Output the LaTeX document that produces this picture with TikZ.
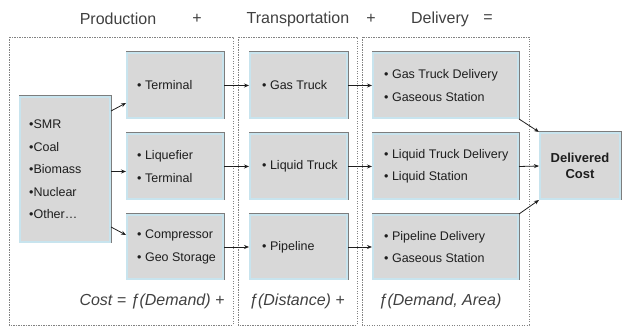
\documentclass[tikz,border=0pt]{standalone}
\usepackage{fontspec}
\setmainfont{Liberation Sans}
\usetikzlibrary{arrows.meta}
\definecolor{boxfill}{RGB}{216,216,216}
\definecolor{boxblue}{RGB}{200,228,238}
\definecolor{boxgray}{RGB}{125,125,125}
\definecolor{frame}{RGB}{130,130,130}
\definecolor{ink}{RGB}{30,30,30}
\tikzset{
  box/.style={rectangle, fill=boxfill, draw=boxblue, line width=2pt,
    preaction={draw=boxgray, line width=3pt}, inner sep=0pt},
  boxtext/.style={anchor=west, align=left, text=ink, inner sep=0pt,
    font=\fontsize{12.5}{22.5}\selectfont},
  costbox/.style={box, align=center, text=ink, font=\bfseries\fontsize{13}{16}\selectfont},
  zone/.style={draw=frame, line width=0.9pt, dash pattern=on 1.2pt off 1.3pt},
  title/.style={text=ink!85, font=\fontsize{16}{18}\selectfont, inner sep=0pt},
  formula/.style={text=ink!85, font=\itshape\fontsize{16}{18}\selectfont, inner sep=0pt},
  conn/.style={draw=ink, line width=0.8pt, -{Stealth[length=5pt,width=4pt]}}
}
\begin{document}
\begin{tikzpicture}[x=1pt,y=-1pt]
\useasboundingbox (0,0) rectangle (625,328);
% zones
\draw[zone] (9,37) rectangle (233,325);
\draw[zone] (238,37) rectangle (357,325);
\draw[zone] (362,37) rectangle (529,325);
% titles
\node[title] (tprod) at (118,19) {Production};
\node[title] (tplus1) at (197,19) {+};
\node[title] (ttrans) at (298,19) {Transportation};
\node[title] (tplus2) at (371,19) {+};
\node[title] (tdel) at (440,19) {Delivery};
\node[title] (teq) at (488,19) {=};
% boxes
\node[box, minimum width=90pt, minimum height=145pt] (src) at (65,169.5) {};
\node[box, minimum width=96pt, minimum height=65pt] (p1) at (175,85.5) {};
\node[box, minimum width=96pt, minimum height=65pt] (p2) at (175,166.5) {};
\node[box, minimum width=96pt, minimum height=64pt] (p3) at (175,247) {};
\node[box, minimum width=97pt, minimum height=65pt] (t1) at (298.5,85.5) {};
\node[box, minimum width=97pt, minimum height=65pt] (t2) at (298.5,166.5) {};
\node[box, minimum width=97pt, minimum height=64pt] (t3) at (298.5,247) {};
\node[box, minimum width=145pt, minimum height=65pt] (d1) at (445.5,85.5) {};
\node[box, minimum width=145pt, minimum height=65pt] (d2) at (445.5,166.5) {};
\node[box, minimum width=145pt, minimum height=64pt] (d3) at (445.5,247) {};
\node[costbox, minimum width=80pt, minimum height=66pt] (cost) at (580,166) {Delivered\\Cost};
% box texts
\node[boxtext] (srct) at ([xshift=10pt]src.west) {•SMR\\•Coal\\•Biomass\\•Nuclear\\•Other…};
\node[boxtext] (p1t) at ([xshift=11pt]p1.west) {• Terminal};
\node[boxtext] (p2t) at ([xshift=11pt]p2.west) {• Liquefier\\• Terminal};
\node[boxtext] (p3t) at ([xshift=11pt]p3.west) {• Compressor\\• Geo Storage};
\node[boxtext] (t1t) at ([xshift=13pt]t1.west) {• Gas Truck};
\node[boxtext] (t2t) at ([xshift=13pt]t2.west) {• Liquid Truck};
\node[boxtext] (t3t) at ([xshift=13pt]t3.west) {• Pipeline};
\node[boxtext] (d1t) at ([xshift=12pt]d1.west) {• Gas Truck Delivery\\• Gaseous Station};
\node[boxtext] (d2t) at ([xshift=12pt]d2.west) {• Liquid Truck Delivery\\• Liquid Station};
\node[boxtext] (d3t) at ([xshift=12pt]d3.west) {• Pipeline Delivery\\• Gaseous Station};
% formulas
\node[formula] (f1) at (152,301) {Cost = ƒ(Demand) +};
\node[formula] (f2) at (297,301) {ƒ(Distance) +};
\node[formula] (f3) at (440,301) {ƒ(Demand, Area)};
% connectors
\draw[conn] ([yshift=-15pt]src.north east) -- ([yshift=16pt]p1.south west);
\draw[conn] ([yshift=-2pt]src.east) -- ([yshift=-2pt]src.east -| p2.west);
\draw[conn] ([yshift=16pt]src.south east) -- ([yshift=-21pt]p3.north west);
\draw[conn] (p1.east) -- (t1.west);
\draw[conn] (p2.east) -- (t2.west);
\draw[conn] (p3.east) -- (t3.west);
\draw[conn] (t1.east) -- (d1.west);
\draw[conn] (t2.east) -- (d2.west);
\draw[conn] (t3.east) -- (d3.west);
\draw[conn] (d1.south east) -- (cost.north west);
\draw[conn] (d2.east) -- (cost.west);
\draw[conn] (d3.north east) -- (cost.south west);
\end{tikzpicture}
\end{document}
